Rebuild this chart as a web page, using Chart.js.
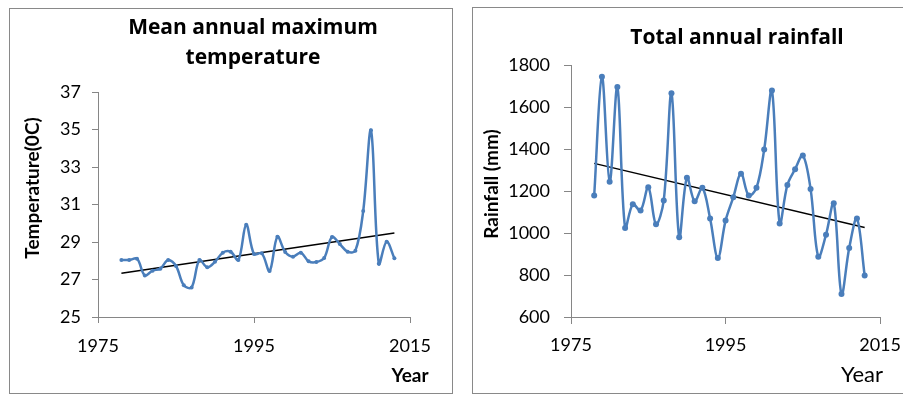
<!DOCTYPE html>
<html lang="en">
<head>
<meta charset="utf-8">
<title>Mean annual maximum temperature / Total annual rainfall</title>
<script src="https://cdn.jsdelivr.net/npm/chart.js@4.4.1/dist/chart.umd.min.js"></script>
<style>
    html, body { margin: 0; padding: 0; background: #fff; width: 903px; height: 395px; overflow: hidden; }
    .panel { position: absolute; box-sizing: border-box; border: 1px solid #898989; background: #fff; }
    #panelTemp { left: 9px; top: 8px; width: 444px; height: 386px; }
    #panelLluvia { left: 472px; top: 7px; width: 440px; height: 387px; }
    canvas { display: block; }
</style>
</head>
<body>
<div class="panel" id="panelTemp"><canvas id="graficoTemp" width="442" height="384"></canvas></div>
<div class="panel" id="panelLluvia"><canvas id="graficoLluvia" width="438" height="385"></canvas></div>

<script>
// Años de la serie (1978-2013)
const anios = [1978, 1979, 1980, 1981, 1982, 1983, 1984, 1985, 1986, 1987,
    1988, 1989, 1990, 1991, 1992, 1993, 1994, 1995, 1996, 1997,
    1998, 1999, 2000, 2001, 2002, 2003, 2004, 2005, 2006, 2007,
    2008, 2009, 2010, 2011, 2012, 2013];

// Temperatura máxima media anual (°C)
const temperatura = [28.04, 28.04, 28.11, 27.22, 27.47, 27.58, 28.04, 27.72, 26.69, 26.58,
    28.04, 27.65, 27.95, 28.43, 28.48, 28.04, 29.92, 28.36, 28.40, 27.45,
    29.28, 28.47, 28.22, 28.43, 27.97, 27.93, 28.15, 29.27, 28.89, 28.48,
    28.54, 30.65, 34.96, 27.84, 29.02, 28.13];

// Lluvia total anual (mm)
const lluvia = [1178, 1744, 1244, 1695, 1024, 1137, 1107, 1218, 1042, 1155,
    1665, 980, 1263, 1151, 1215, 1069, 881, 1059, 1170, 1282,
    1178, 1215, 1398, 1679, 1045, 1229, 1304, 1369, 1210, 887,
    992, 1142, 709, 929, 1069, 798];

// Ticks de los ejes
const ticksAnios = [1975, 1995, 2015];
const ticksTemp = [25, 27, 29, 31, 33, 35, 37];
const ticksLluvia = [600, 800, 1000, 1200, 1400, 1600, 1800];

const AZUL = "#4a7ebb";
const GRIS = "#868686";
const FUENTE = "Lato, 'Open Sans', sans-serif";
const FUENTE_TITULO = "'Open Sans', Lato, sans-serif";

// Recta de mínimos cuadrados (línea de tendencia)
function tendencia(xs, ys) {
    const n = xs.length;
    const mx = xs.reduce((a, b) => a + b, 0) / n;
    const my = ys.reduce((a, b) => a + b, 0) / n;
    let num = 0, den = 0;
    for (let i = 0; i < n; i++) {
        num += (xs[i] - mx) * (ys[i] - my);
        den += (xs[i] - mx) * (xs[i] - mx);
    }
    const b = num / den;
    const a = my - b * mx;
    return [
        { x: xs[0], y: a + b * xs[0] },
        { x: xs[n - 1], y: a + b * xs[n - 1] }
    ];
}

// Dibuja textos sueltos (títulos) respecto al área del gráfico
const textosPlugin = {
    id: "textos",
    afterDraw(chart, args, opts) {
        const { ctx, chartArea } = chart;
        (opts.items || []).forEach(t => {
            ctx.save();
            ctx.font = t.font;
            ctx.fillStyle = "#000";
            ctx.textAlign = "center";
            ctx.textBaseline = "middle";
            ctx.translate(chartArea.left + t.dx, chartArea.top + t.dy);
            if (t.rot) ctx.rotate(t.rot);
            ctx.fillText(t.texto, 0, 0);
            ctx.restore();
        });
    }
};

function crearGrafico(canvasId, valores, cfg) {
    const puntos = anios.map((a, i) => ({ x: a, y: valores[i] }));
    const ctx = document.getElementById(canvasId).getContext("2d");
    const fuenteTicks = { family: FUENTE, size: 18 };

    return new Chart(ctx, {
        type: "line",
        data: {
            datasets: [
                {
                    data: puntos,
                    borderColor: AZUL,
                    backgroundColor: AZUL,
                    borderWidth: 2.5,
                    pointRadius: cfg.radio,
                    pointBorderWidth: 0,
                    tension: 0.35
                },
                {
                    data: tendencia(anios, valores),
                    borderColor: "#000",
                    borderWidth: 1.5,
                    pointRadius: 0,
                    tension: 0
                }
            ]
        },
        options: {
            responsive: false,
            animation: false,
            layout: { padding: cfg.padding },
            plugins: {
                legend: { display: false },
                tooltip: { enabled: false },
                textos: { items: cfg.textos }
            },
            scales: {
                x: {
                    type: "linear",
                    min: ticksAnios[0],
                    max: ticksAnios[ticksAnios.length - 1],
                    afterBuildTicks: s => { s.ticks = ticksAnios.map(v => ({ value: v })); },
                    afterFit: s => { s.height = cfg.altoX; },
                    ticks: { font: fuenteTicks, color: "#000", padding: cfg.padX, maxRotation: 0, callback: v => String(v) },
                    grid: { drawOnChartArea: false, drawTicks: true, tickLength: cfg.marcaX, color: GRIS },
                    border: { color: GRIS, width: 1 }
                },
                y: {
                    min: cfg.ticksY[0],
                    max: cfg.ticksY[cfg.ticksY.length - 1],
                    afterBuildTicks: s => { s.ticks = cfg.ticksY.map(v => ({ value: v })); },
                    afterFit: s => { s.width = cfg.anchoY; },
                    ticks: { font: fuenteTicks, color: "#000", padding: cfg.padY, callback: v => String(v) },
                    grid: { drawOnChartArea: false, drawTicks: true, tickLength: cfg.marcaY, color: GRIS },
                    border: { color: GRIS, width: 1 }
                }
            }
        },
        plugins: [textosPlugin]
    });
}

crearGrafico("graficoTemp", temperatura, {
    radio: 2,
    ticksY: ticksTemp,
    padding: { left: 0, top: 83, right: 42, bottom: 0 },
    altoX: 76, anchoY: 88,
    padX: 12, marcaX: 6, padY: 11, marcaY: 6,
    textos: [
        { texto: "Mean annual maximum", font: "bold 21px " + FUENTE_TITULO, dx: 155, dy: -64 },
        { texto: "temperature", font: "bold 21px " + FUENTE_TITULO, dx: 155, dy: -34 },
        { texto: "Temperature(0C)", font: "bold 19px " + FUENTE, dx: -65, dy: 96, rot: -Math.PI / 2 },
        { texto: "Year", font: "bold 19px " + FUENTE, dx: 312, dy: 284 }
    ]
});

crearGrafico("graficoLluvia", lluvia, {
    radio: 3,
    ticksY: ticksLluvia,
    padding: { left: 0, top: 57, right: 30, bottom: 0 },
    altoX: 76, anchoY: 98,
    padX: 10, marcaX: 7, padY: 14, marcaY: 7,
    textos: [
        { texto: "Total annual rainfall", font: "bold 21px " + FUENTE_TITULO, dx: 166, dy: -27 },
        { texto: "Rainfall (mm)", font: "bold 19px " + FUENTE, dx: -79, dy: 119, rot: -Math.PI / 2 },
        { texto: "Year", font: "22px " + FUENTE, dx: 291, dy: 310 }
    ]
});
</script>
</body>
</html>
